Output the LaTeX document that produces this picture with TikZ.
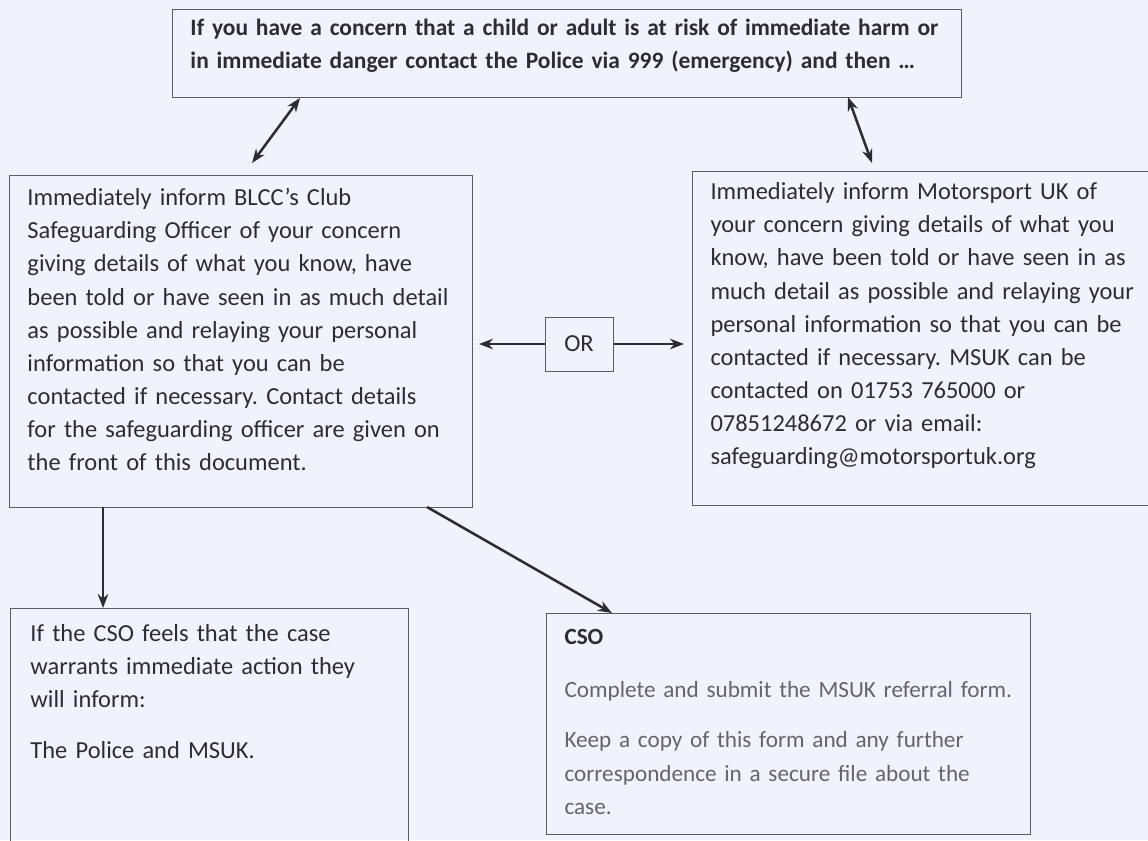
\documentclass[tikz,border=0pt]{standalone}
\usepackage{fontspec}
\setmainfont{Carlito}
\usetikzlibrary{arrows.meta}
\frenchspacing

\definecolor{paper}{RGB}{241,243,250}
\definecolor{ink}{RGB}{44,44,54}
\definecolor{frame}{RGB}{92,92,104}
\definecolor{faint}{RGB}{100,100,110}

\tikzset{
  textbox/.style={draw=frame,line width=0.7pt,align=left,anchor=north west,
    inner xsep=0.45cm,inner ysep=0pt,text=ink,
    font=\fontsize{17.4}{23.6}\selectfont},
  orbox/.style={draw=frame,line width=0.7pt,inner sep=0pt,text=ink,
    minimum width=1.7cm,minimum height=1.35cm,
    font=\fontsize{17.4}{23.6}\selectfont}
}

\begin{document}
\begin{tikzpicture}[>={Stealth[length=10pt,width=7.5pt]},auto]
                \useasboundingbox (0, 0) rectangle (28.7, -21);
                \clip (0, 0) rectangle (28.7, -21);
                \fill[paper] (0, 0) rectangle (28.7, -21);
                % top: emergency first
                \node[textbox,font=\fontsize{16.7}{23.6}\selectfont\bfseries,text width=18.825cm,
                      text height=0.65cm,text depth=1.55cm](concern)at(4.3, -0.225){If you have a concern that a child or adult is at risk of immediate harm or\\
                      in immediate danger contact the Police via 999 (emergency) and then \dots};
                % the two ways to report
                \node[textbox,text width=10.675cm,text height=0.75cm,text depth=7.55cm](inform)at(0.225, -4.375){Immediately inform BLCC’s Club\\
                      Safeguarding Officer of your concern\\
                      giving details of what you know, have\\
                      been told or have seen in as much detail\\
                      as possible and relaying your personal\\
                      information so that you can be\\
                      contacted if necessary. Contact details\\
                      for the safeguarding officer are given on\\
                      the front of this document.};
                \node[textbox,text width=10.85cm,text height=0.7cm,text depth=7.65cm](msuk)at(17.3, -4.275){Immediately inform Motorsport UK of\\
                      your concern giving details of what you\\
                      know, have been told or have seen in as\\
                      much detail as possible and relaying your\\
                      personal information so that you can be\\
                      contacted if necessary. MSUK can be\\
                      contacted on 01753 765000 or\\
                      07851248672 or via email:\\
                      safeguarding@motorsportuk.org};
                \node[orbox](either)at(14.475, -8.6){OR};
                % what the CSO does
                \node[textbox,inner xsep=0.5cm,text width=8.95cm,text height=0.825cm,text depth=5.725cm](police)at(0.25, -15.2){If the CSO feels that the case\\
                      warrants immediate action they\\
                      will inform:\\[0.425cm]
                      The Police and MSUK.};
                \node[textbox,text=faint,font=\fontsize{16.5}{23.6}\selectfont,text width=11.2cm,text height=0.775cm,text depth=4.75cm](referral)at(13.65, -15.325){{\color{ink}\bfseries CSO}\\[0.5cm]
                      Complete and submit the MSUK referral form.\\[0.425cm]
                      Keep a copy of this form and any further\\
                      correspondence in a secure file about the\\
                      case.};
                % free ends of the connectors
                \coordinate(a1)at(7.5, -2.45);
                \coordinate(a2)at(6.3, -4.075);
                \coordinate(b1)at(21.2, -2.425);
                \coordinate(b2)at(21.8, -4.075);
                \coordinate(d1)at(2.575, -12.675);
                \coordinate(d2)at(10.675, -12.675);
                \coordinate(d3)at(15.3, -15.325);
                \path[->,ink,line width=1.8pt]
                (a1) edge[<->] (a2)
                (b1) edge[<->] (b2)
                (either.west) edge[shorten >=0.15cm] (either.west -| inform.east)
                (either.east) edge[shorten >=0.2cm] (either.east -| msuk.west)
                (d1) edge (d1 |- police.north)
                (d2) edge (d3);
            \end{tikzpicture}
\end{document}
